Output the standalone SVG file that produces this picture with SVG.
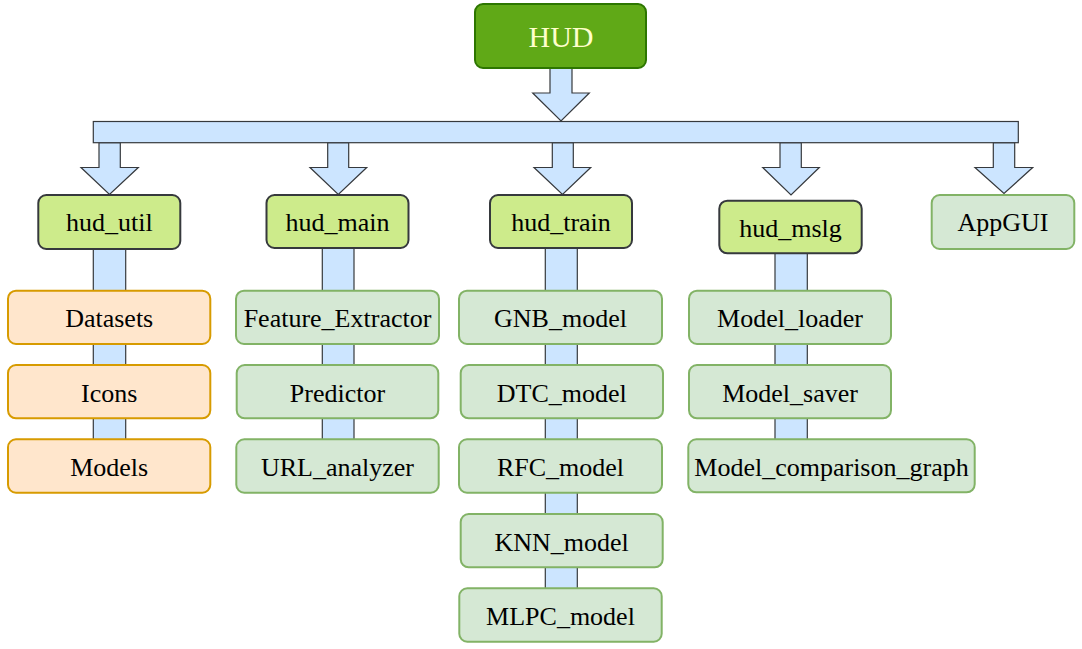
<svg xmlns="http://www.w3.org/2000/svg" width="1082" height="649" viewBox="0 0 1082 649">
<style>
.conn{fill:#cce5ff;stroke:#36393d;stroke-width:1.2}
.root{fill:#60a917;stroke:#2d7600;stroke-width:2}
.mod{fill:#cdeb8b;stroke:#36393d;stroke-width:2}
.grn{fill:#d5e8d4;stroke:#82b366;stroke-width:2}
.org{fill:#ffe6cc;stroke:#d79b00;stroke-width:2}
text{font-family:"Liberation Serif","Times New Roman",serif;font-size:26px;fill:#000;text-anchor:middle}
.rt{font-size:30px;fill:#ffffcc}
</style>
<rect width="1082" height="649" fill="#ffffff"/>
<g id="connectors">
<rect class="conn" x="93.3" y="249" width="32.4" height="192"/>
<rect class="conn" x="322.3" y="248" width="31.7" height="193"/>
<rect class="conn" x="545.3" y="248" width="32" height="342"/>
<rect class="conn" x="775" y="253" width="32.3" height="188"/>
<path class="conn" d="M550,68 L572,68 L572,93 L589.3,93 L561,121 L532.7,93 L550,93 Z"/>
<path class="conn" d="M99,142.7 L120.3,142.7 L120.3,167.5 L138.3,167.5 L109.5,194.5 L81,167.5 L99,167.5 Z"/>
<path class="conn" d="M327.7,142.7 L348.7,142.7 L348.7,167.5 L366.7,167.5 L338.3,194.5 L310,167.5 L327.7,167.5 Z"/>
<path class="conn" d="M552.3,142.7 L573.3,142.7 L573.3,167.5 L590.7,167.5 L562.5,194.5 L534,167.5 L552.3,167.5 Z"/>
<path class="conn" d="M780,142.7 L801.3,142.7 L801.3,167.5 L819.3,167.5 L791,195 L762.7,167.5 L780,167.5 Z"/>
<path class="conn" d="M993.3,142.7 L1014.7,142.7 L1014.7,167.5 L1032.7,167.5 L1004,193.5 L975,167.5 L993.3,167.5 Z"/>
<rect class="conn" x="93.3" y="121.5" width="925" height="21.2"/>
</g>
<g id="HUD"><rect class="root" x="475" y="4" width="171" height="64" rx="8"/><text class="rt" x="561" y="46.5">HUD</text></g>
<g id="hud_util"><rect class="mod" x="38.3" y="195" width="142" height="54" rx="8"/><text x="109.3" y="231">hud_util</text></g>
<g id="hud_main"><rect class="mod" x="266.5" y="195" width="142" height="53" rx="8"/><text x="337.5" y="231">hud_main</text></g>
<g id="hud_train"><rect class="mod" x="490" y="195" width="142" height="53" rx="8"/><text x="561" y="231">hud_train</text></g>
<g id="hud_mslg"><rect class="mod" x="719.3" y="200.7" width="142.4" height="52.6" rx="8"/><text x="790.5" y="236.5">hud_mslg</text></g>
<g id="AppGUI"><rect class="grn" x="931.7" y="195" width="142.6" height="54" rx="8"/><text x="1003" y="231">AppGUI</text></g>
<g id="Datasets"><rect class="org" x="8" y="290.7" width="202.3" height="53.3" rx="8"/><text x="109.2" y="327.3">Datasets</text></g>
<g id="Icons"><rect class="org" x="8" y="365" width="202.3" height="53.3" rx="8"/><text x="109.2" y="401.5">Icons</text></g>
<g id="Models"><rect class="org" x="8" y="439.3" width="202.3" height="53.4" rx="8"/><text x="109.2" y="476">Models</text></g>
<g id="Feature_Extractor"><rect class="grn" x="236" y="290.7" width="203" height="53.3" rx="8"/><text x="337.5" y="327.3">Feature_Extractor</text></g>
<g id="Predictor"><rect class="grn" x="236.7" y="365" width="201.6" height="53.3" rx="8"/><text x="337.5" y="401.5">Predictor</text></g>
<g id="URL_analyzer"><rect class="grn" x="236.3" y="439.3" width="202.4" height="53.4" rx="8"/><text x="337.5" y="476">URL_analyzer</text></g>
<g id="GNB_model"><rect class="grn" x="459" y="290.7" width="203" height="53.3" rx="8"/><text x="560.5" y="327.3">GNB_model</text></g>
<g id="DTC_model"><rect class="grn" x="460.7" y="365" width="202.3" height="53.3" rx="8"/><text x="561.8" y="401.5">DTC_model</text></g>
<g id="RFC_model"><rect class="grn" x="459" y="439.3" width="203" height="53.4" rx="8"/><text x="560.5" y="476">RFC_model</text></g>
<g id="KNN_model"><rect class="grn" x="460.7" y="514" width="202" height="53.3" rx="8"/><text x="561.7" y="550.5">KNN_model</text></g>
<g id="MLPC_model"><rect class="grn" x="459.3" y="588.3" width="202.4" height="53.4" rx="8"/><text x="560.5" y="625">MLPC_model</text></g>
<g id="Model_loader"><rect class="grn" x="689" y="290.7" width="202" height="53.3" rx="8"/><text x="790" y="327.3">Model_loader</text></g>
<g id="Model_saver"><rect class="grn" x="689" y="365" width="202" height="53.3" rx="8"/><text x="790" y="401.5">Model_saver</text></g>
<g id="Model_comparison_graph"><rect class="grn" x="688.3" y="439.3" width="286.4" height="53" rx="8"/><text x="831.5" y="476">Model_comparison_graph</text></g>
</svg>
